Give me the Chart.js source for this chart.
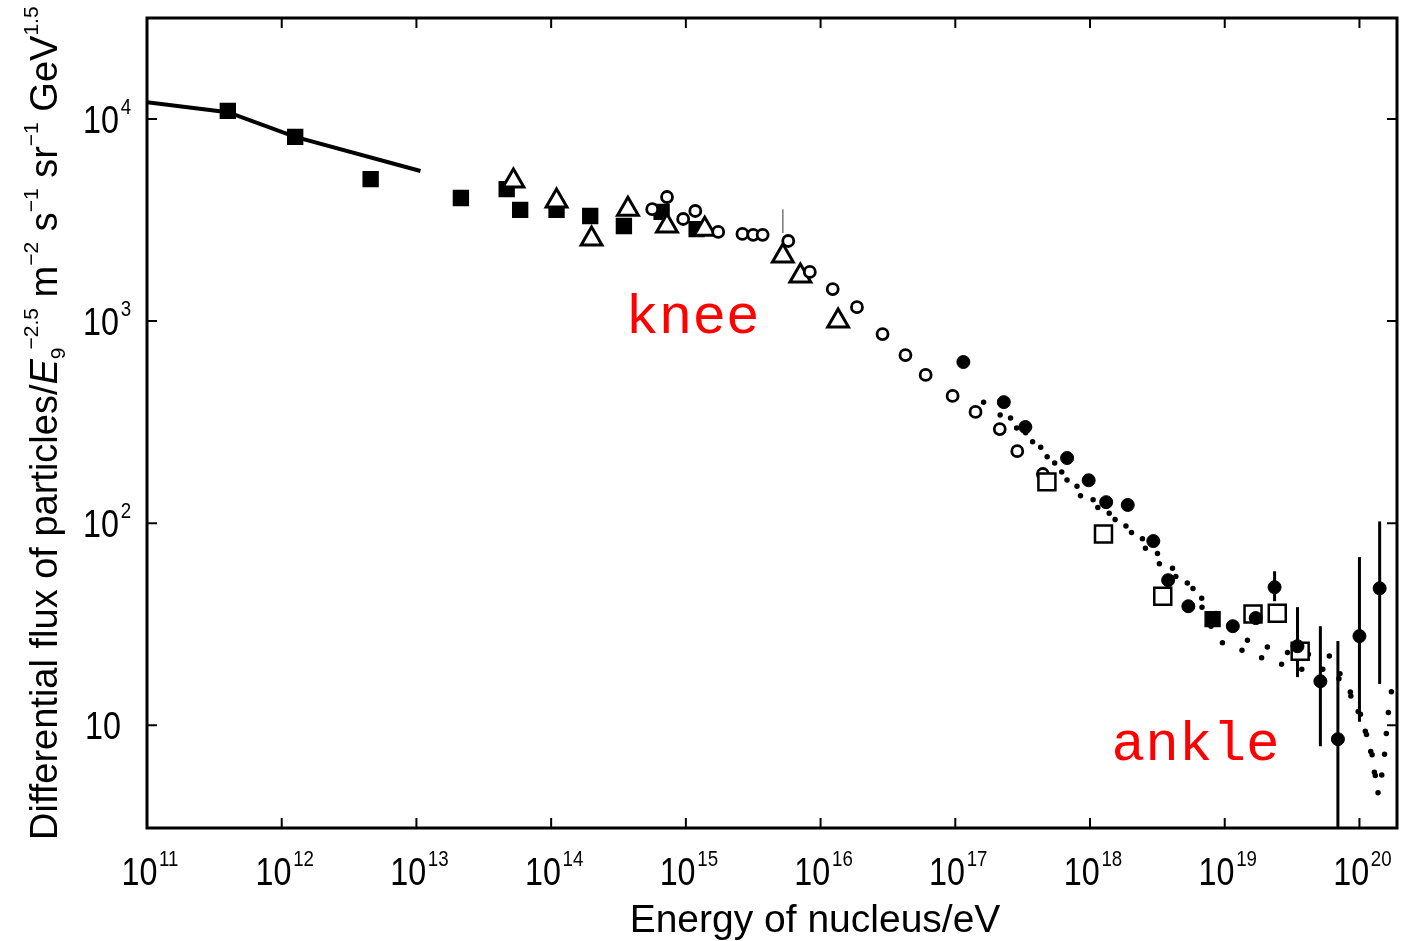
<!DOCTYPE html>
<html>
<head>
<meta charset="utf-8">
<script src="https://cdn.jsdelivr.net/npm/chart.js@4.4.1/dist/chart.umd.min.js"></script>
<style>
    html, body { margin: 0; padding: 0; background: #fff; }
    #wrap { width: 1403px; height: 941px; }
</style>
</head>
<body>
<div id="wrap"><canvas id="chart" width="1403" height="941"></canvas></div>
<script>
// energies are log10(E / eV), fluxes are read straight off the plot
const lineLogE = [11.0, 11.6, 12.1, 13.03];
const lineFlux = [12100, 10800, 8150, 5530];

const filledSquareLogE = [11.60, 12.10, 12.66, 13.33, 13.67, 13.77, 14.04, 14.29, 14.54, 14.82, 15.08, 18.91];
const filledSquareFlux = [10960, 8150, 5040, 4065, 4500, 3550, 3550, 3310, 2955, 3470, 2850, 33.5];

const triangleLogE = [13.72, 14.04, 14.30, 14.57, 14.86, 15.14, 15.72, 15.85, 16.13];
const triangleFlux = [4930, 3925, 2545, 3580, 2955, 2850, 2100, 1670, 1000];

const openCircleLogE = [14.75, 14.86, 14.98, 15.07, 15.24, 15.42, 15.50, 15.57, 15.76, 15.92,
    16.09, 16.27, 16.46, 16.63, 16.78, 16.98, 17.15, 17.33, 17.46, 17.65];
const openCircleFlux = [3580, 4110, 3200, 3505, 2760, 2700, 2670, 2670, 2490, 1750,
    1440, 1172, 862, 679, 541, 426, 355, 292, 227, 175];

const filledCircleLogE = [17.06, 17.36, 17.52, 17.83, 17.99, 18.12, 18.28, 18.47, 18.58,
    18.73, 19.06, 19.23, 19.37, 19.54, 19.71, 19.84, 20.00, 20.15];
const filledCircleFlux = [627, 397, 299, 210, 163, 127, 123, 81.5, 52.2,
    38.8, 30.9, 33.9, 48.2, 24.6, 16.5, 8.53, 27.6, 47.6];

const openSquareLogE = [17.68, 18.10, 18.54, 19.21, 19.39, 19.56];
const openSquareFlux = [160, 88.3, 43.5, 35.5, 35.8, 23.2];

const upperDotLogE = [17.21, 17.54, 17.85, 18.17, 18.36, 18.68, 19.10, 19.43, 19.78, 19.95,
    20.07, 20.14, 20.18, 20.21, 20.24, 20.28];
const upperDotFlux = [397, 267, 163, 108, 87.3, 54.1, 27.3, 23.0, 22.0, 13.9,
    8.34, 4.55, 6.41, 11.0, 15.1, 16.9];

const lowerDotLogE = [17.41, 17.70, 17.90, 18.28, 18.55, 18.76, 18.95, 19.26, 19.54, 19.80,
    19.99, 20.09, 20.14];
const lowerDotFlux = [331, 215, 141, 94.4, 59.2, 48.2, 26.1, 21.7, 18.9, 18.9,
    12.4, 7.43, 4.55];

// error bars on the highest-energy points
const errLogE = [19.37, 19.54, 19.71, 19.84, 20.00, 20.15];
const errLow = [41.1, 17.3, 7.87, 3.0, 10.4, 16.0];
const errHigh = [57.8, 38.4, 30.9, 26.1, 67.9, 102];
const thinErrLogE = [15.72];
const thinErrLow = [2730];
const thinErrHigh = [3580];

const notes = ['knee', 'ankle'];
const noteLogE = [14.55, 18.16];
const noteFlux = [873, 6.7];

const X_MIN = 1e11, X_MAX = 1.9e20;
const Y_MIN = 3.1, Y_MAX = 31600;

const SQUEEZE = 0.85;
const BIG = '38px "Liberation Sans", Arial, sans-serif';
const SMALL = '22px "Liberation Sans", Arial, sans-serif';

const toPoints = (logE, flux) => logE.map((e, i) => ({x: Math.pow(10, e), y: flux[i]}));

function tenWidth(ctx, exp) {
    ctx.font = BIG;
    let w = ctx.measureText('10').width;
    if (exp !== null) {
        ctx.font = SMALL;
        w += 2 + ctx.measureText(String(exp)).width;
    }
    return w * SQUEEZE;
}

function drawTen(ctx, exp, left, baseline) {
    ctx.save();
    ctx.translate(left, baseline);
    ctx.scale(SQUEEZE, 1);
    ctx.font = BIG;
    ctx.fillText('10', 0, 0);
    const w = ctx.measureText('10').width;
    if (exp !== null) {
        ctx.font = SMALL;
        ctx.fillText(String(exp), w + 2, -19);
    }
    ctx.restore();
}

const decorPlugin = {
    id: 'decor',
    beforeDatasetsDraw(chart) {
        const {ctx, chartArea: a, scales: {x, y}} = chart;
        ctx.save();
        ctx.beginPath();
        ctx.rect(a.left, a.top, a.right - a.left, a.bottom - a.top);
        ctx.clip();
        ctx.strokeStyle = '#000';
        ctx.lineCap = 'butt';
        ctx.lineWidth = 3;
        errLogE.forEach((e, i) => {
            const px = x.getPixelForValue(Math.pow(10, e));
            ctx.beginPath();
            ctx.moveTo(px, y.getPixelForValue(errHigh[i]));
            ctx.lineTo(px, y.getPixelForValue(errLow[i]));
            ctx.stroke();
        });
        ctx.lineWidth = 1.2;
        ctx.strokeStyle = '#555';
        thinErrLogE.forEach((e, i) => {
            const px = x.getPixelForValue(Math.pow(10, e));
            ctx.beginPath();
            ctx.moveTo(px, y.getPixelForValue(thinErrHigh[i]));
            ctx.lineTo(px, y.getPixelForValue(thinErrLow[i]));
            ctx.stroke();
        });
        ctx.restore();
    },
    afterDatasetsDraw(chart) {
        const {ctx, chartArea: a, scales: {x, y}} = chart;
        ctx.save();
        ctx.strokeStyle = '#000';
        ctx.fillStyle = '#000';

        // frame
        ctx.lineWidth = 3;
        ctx.strokeRect(a.left, a.top, a.right - a.left, a.bottom - a.top);

        // inward decade ticks + labels
        ctx.lineWidth = 2;
        ctx.textBaseline = 'alphabetic';
        ctx.textAlign = 'left';
        for (let e = Math.ceil(Math.log10(x.min)); e <= Math.floor(Math.log10(x.max)); e++) {
            const px = x.getPixelForValue(Math.pow(10, e));
            ctx.beginPath();
            ctx.moveTo(px, a.bottom); ctx.lineTo(px, a.bottom - 10);
            ctx.moveTo(px, a.top); ctx.lineTo(px, a.top + 10);
            ctx.stroke();
            const w = tenWidth(ctx, e);
            drawTen(ctx, e, px + 3 - w / 2, 885);
        }
        for (let e = Math.ceil(Math.log10(y.min)); e <= Math.floor(Math.log10(y.max)); e++) {
            const py = y.getPixelForValue(Math.pow(10, e));
            ctx.beginPath();
            ctx.moveTo(a.left, py); ctx.lineTo(a.left + 10, py);
            ctx.moveTo(a.right, py); ctx.lineTo(a.right - 10, py);
            ctx.stroke();
            if (e === 1) {
                drawTen(ctx, null, 121 - tenWidth(ctx, null), py + 14);
            } else {
                drawTen(ctx, e, 119 - tenWidth(ctx, null), py + 14);
            }
        }

        // x title
        ctx.font = '39px "Liberation Sans", Arial, sans-serif';
        ctx.textAlign = 'center';
        ctx.fillText('Energy of nucleus/eV', 815, 932);

        // y title, rotated, with super/subscripts
        const parts = [
            ['Differential flux of particles/', 'n'],
            ['E', 'i'], ['9', 'sub'], ['\u22122.5', 'sup'],
            [' m', 'n'], ['\u22122', 'sup'],
            [' s', 'n'], ['\u22121', 'sup'],
            [' sr', 'n'], ['\u22121', 'sup'],
            [' GeV', 'n'], ['1.5', 'sup']
        ];
        ctx.translate(57, 840);
        ctx.rotate(-Math.PI / 2);
        ctx.textAlign = 'left';
        let cx = 0;
        parts.forEach(([t, kind]) => {
            let dy = 0;
            if (kind === 'n') ctx.font = '38px "Liberation Sans", Arial, sans-serif';
            if (kind === 'i') ctx.font = 'italic 38px "Liberation Sans", Arial, sans-serif';
            if (kind === 'sup') { ctx.font = '21px "Liberation Sans", Arial, sans-serif'; dy = -19; }
            if (kind === 'sub') { ctx.font = '21px "Liberation Sans", Arial, sans-serif'; dy = 8; }
            ctx.fillText(t, cx, dy);
            cx += ctx.measureText(t).width + (kind === 'sub' ? -2 : 0);
        });
        ctx.restore();

        // red annotations
        ctx.save();
        ctx.fillStyle = 'rgb(255, 0, 0)';
        ctx.font = '56px "Liberation Mono", "Courier New", monospace';
        ctx.textAlign = 'left';
        notes.forEach((t, i) => {
            ctx.fillText(t, x.getPixelForValue(Math.pow(10, noteLogE[i])), y.getPixelForValue(noteFlux[i]));
        });
        ctx.restore();
    }
};

const marker = (style, radius, fill, border, order) => ({
    showLine: false,
    pointStyle: style,
    pointRadius: radius,
    pointHoverRadius: radius,
    pointBackgroundColor: fill,
    pointBorderColor: '#000',
    pointBorderWidth: border,
    order: order,
});

new Chart(document.getElementById('chart'), {
    type: 'scatter',
    data: {
        datasets: [
            {
                data: toPoints(lineLogE, lineFlux),
                showLine: true, borderColor: '#000', borderWidth: 4,
                pointRadius: 0, tension: 0, order: 8,
            },
            {
                data: toPoints(upperDotLogE, upperDotFlux),
                showLine: true, borderColor: '#000', borderWidth: 5.5,
                borderDash: [0, 21], borderCapStyle: 'round',
                pointRadius: 0, order: 9,
            },
            {
                data: toPoints(lowerDotLogE, lowerDotFlux),
                showLine: true, borderColor: '#000', borderWidth: 5.5,
                borderDash: [0, 21], borderCapStyle: 'round',
                pointRadius: 0, order: 9,
            },
            {data: toPoints(filledSquareLogE, filledSquareFlux), ...marker('rect', 10.5, '#000', 1.5, 6)},
            {data: toPoints(triangleLogE, triangleFlux), ...marker('triangle', 12, '#fff', 3, 5)},
            {data: toPoints(openCircleLogE, openCircleFlux), ...marker('circle', 5.5, '#fff', 2.8, 4)},
            {data: toPoints(openSquareLogE, openSquareFlux), ...marker('rect', 12, '#fff', 2.5, 3)},
            {data: toPoints(filledCircleLogE, filledCircleFlux), ...marker('circle', 6.5, '#000', 1, 2)},
        ],
    },
    options: {
        responsive: false,
        animation: false,
        events: [],
        layout: {autoPadding: false, padding: {left: 147, right: 6, top: 18, bottom: 113}},
        plugins: {legend: {display: false}, tooltip: {enabled: false}},
        scales: {
            x: {type: 'logarithmic', min: X_MIN, max: X_MAX, display: false},
            y: {type: 'logarithmic', min: Y_MIN, max: Y_MAX, display: false},
        },
    },
    plugins: [decorPlugin],
});
</script>
</body>
</html>
